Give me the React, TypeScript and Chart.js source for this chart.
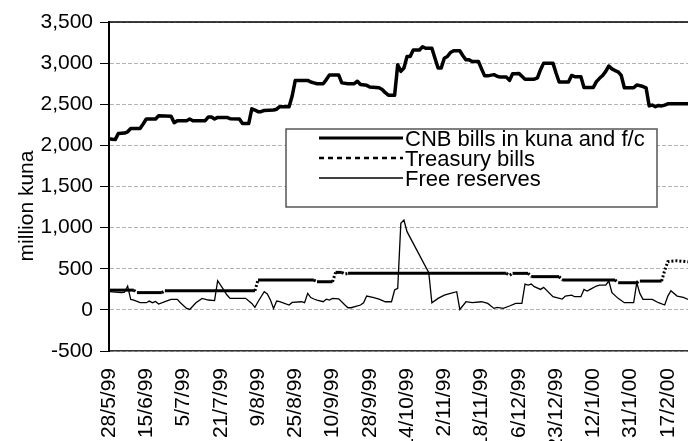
import React, { useEffect, useRef } from 'react';
import { Chart, registerables } from 'chart.js';

Chart.register(...registerables);

const FONT = "'Liberation Sans', Arial, Helvetica, sans-serif";

// x axis: working-day index; labels every 12 working days
const xTickPos = [0, 12, 24, 36, 48, 60, 72, 84, 96, 108, 120, 132, 144, 156, 168, 180];
const xTickLabels = [
  '28/5/99', '15/6/99', '5/7/99', '21/7/99', '9/8/99', '25/8/99', '10/9/99', '28/9/99',
  '14/10/99', '2/11/99', '18/11/99', '6/12/99', '23/12/99', '12/1/00', '31/1/00', '17/2/00',
];

const seriesNames = ['CNB bills in kuna and f/c', 'Treasury bills', 'Free reserves'];

// CNB bills in kuna and f/c (million kuna)
const cnbDay = [0, 1, 2, 3, 5, 6, 7, 10, 11, 12, 15, 16, 20, 21, 22, 25, 26, 27, 31, 32, 33, 34, 35, 38, 39, 42, 43, 45,
  46, 47, 48, 49, 50, 53, 54, 55, 58, 59, 60, 64, 65, 66, 67, 69, 70, 71, 74, 75, 77, 79, 80, 81, 83, 84, 87, 88, 89, 90, 92,
  93, 94, 95, 96, 97, 98, 100, 101, 102, 104, 105, 106, 107, 108, 109, 110, 111, 113, 114, 115, 116, 117, 119, 120, 121, 122,
  124, 125, 126, 128, 129, 130, 131, 132, 133, 134, 137, 138, 139, 140, 143, 144, 145, 148, 149, 150, 152, 153, 156, 157, 158,
  159, 160, 161, 162, 163, 164, 165, 166, 169, 170, 172, 173, 174, 175, 176, 177, 178, 179, 180, 187];
const cnbVal = [2080, 2075, 2070, 2145, 2150, 2165, 2205, 2205, 2260, 2320, 2320, 2360, 2355, 2275, 2300, 2300, 2320, 2300,
  2300, 2345, 2345, 2320, 2340, 2340, 2325, 2320, 2265, 2265,
  2445, 2430, 2410, 2410, 2425, 2430, 2440, 2470, 2470, 2600, 2790, 2790, 2770, 2760, 2750, 2750, 2800, 2855, 2855, 2760,
  2750, 2750, 2780, 2740, 2730, 2710, 2700, 2680, 2640, 2610, 2610,
  2980, 2900, 2940, 3080, 3080, 3160, 3160, 3200, 3180, 3180, 3060, 2940, 2940, 3060, 3080, 3130, 3150, 3150, 3090, 3040,
  3040, 3020, 3020, 2930, 2845, 2845,
  2860, 2840, 2830, 2830, 2790, 2870, 2870, 2875, 2840, 2805, 2805, 2820, 2920, 3000, 3000, 2880, 2770, 2770, 2850, 2835,
  2835, 2705, 2705, 2775, 2815,
  2850, 2900, 2965, 2930, 2910, 2895, 2850, 2700, 2700, 2735, 2715, 2700, 2480, 2490, 2470, 2485, 2480, 2490, 2505, 2505];

// Treasury bills (million kuna)
const tbDay = [0, 8, 9, 17, 18, 47, 48, 66, 67, 72, 73, 75, 76, 77, 128, 129, 130, 135, 136, 145, 146, 163, 164, 170,
  171, 178, 179, 180, 183, 187];
const tbVal = [240, 240, 210, 210, 232, 232, 362, 362, 342, 342, 456, 456, 436, 444, 444, 420, 444, 444, 404, 404, 364,
  364, 330, 330, 350, 350, 480, 586, 598, 582];

// Free reserves (million kuna)
const frDay = [0, 4, 5, 6, 7, 8, 10, 12, 13, 14, 15, 16, 18, 20, 22, 23, 25, 26, 28, 30, 32, 34, 35, 37, 38, 39, 44, 46,
  47, 48, 50, 51, 52, 53, 54, 55, 58, 59, 62, 63, 64, 65, 66, 67, 69, 70, 71, 72, 74, 76, 77, 78, 81, 82, 83, 85, 87, 89,
  91, 92, 93, 94, 95, 96, 103, 104, 106, 108, 110, 112, 113, 115, 117, 120, 122, 124, 125, 127, 129, 131, 133, 134, 135,
  136, 137, 139, 140, 143, 146, 147, 149, 150, 152, 153, 154, 155, 157, 158, 160, 161, 162, 164, 166, 169, 170, 171, 172,
  175, 177, 179, 180, 181, 183, 185, 187];
const frVal = [221, 209, 215, 290, 128, 119, 87, 87, 107, 87, 103, 71, 99, 128, 128, 87, 18, 6, 87, 140, 120, 112, 355,
  241, 180, 140, 140, 79, 30, 99, 221, 193, 120, 18, 107, 99, 59, 91, 99, 87, 201, 150, 132, 120, 99, 130, 120, 140, 135,
  59, 26, 26, 59, 87, 168, 152, 130, 99, 99, 241, 262, 1052, 1092, 951, 452, 87, 140, 180, 201, 221, 6, 99, 87, 99, 79,
  18, 30, 18, 47, 79, 79, 314, 302, 314, 282, 249, 274, 160, 132, 168, 180, 160, 160, 249, 229, 249, 290, 300, 300, 351,
  209, 140, 87, 87, 330, 200, 128, 128, 87, 59, 168, 233, 168, 152, 120];

const pairs = (d: number[], v: number[]) => d.map((x, i) => ({ x, y: v[i] }));

export default function App() {
  const ref = useRef<HTMLCanvasElement | null>(null);

  useEffect(() => {
    document.body.style.margin = '0';
    const canvas = ref.current;
    if (!canvas) return;

    const frameLine = {
      id: 'frameLine',
      beforeDatasetsDraw(chart: any) {
        const { ctx, chartArea: a } = chart;
        ctx.save();
        ctx.strokeStyle = '#000';
        ctx.lineWidth = 1.5;
        ctx.beginPath();
        ctx.moveTo(a.left, a.top);
        ctx.lineTo(a.right, a.top);
        ctx.stroke();
        ctx.restore();
      },
    };

    const legendBox = {
      id: 'legendBox',
      afterDatasetsDraw(chart: any) {
        const { ctx } = chart;
        ctx.save();
        ctx.fillStyle = '#fff';
        ctx.fillRect(286, 129, 371, 78);
        ctx.strokeStyle = '#555';
        ctx.lineWidth = 1.5;
        ctx.strokeRect(286, 129, 371, 78);
        const lineY = [138, 158, 178];
        const textY = [146, 166, 186];
        const widths = [3, 2.3, 1.3];
        const dashes = [[], [5, 4], []];
        chart.data.datasets.forEach((ds: any, i: number) => {
          ctx.strokeStyle = ds.borderColor;
          ctx.lineWidth = widths[i];
          ctx.setLineDash(dashes[i]);
          ctx.beginPath();
          ctx.moveTo(319, lineY[i]);
          ctx.lineTo(403, lineY[i]);
          ctx.stroke();
          ctx.setLineDash([]);
          ctx.fillStyle = '#000';
          ctx.font = `22px ${FONT}`;
          ctx.textAlign = 'left';
          ctx.textBaseline = 'alphabetic';
          ctx.fillText(ds.label, 405, textY[i]);
        });
        ctx.restore();
      },
    };

    const yTitle = {
      id: 'yTitle',
      afterDraw(chart: any) {
        const { ctx } = chart;
        ctx.save();
        ctx.translate(33, 206);
        ctx.rotate(-Math.PI / 2);
        ctx.fillStyle = '#000';
        ctx.font = `21px ${FONT}`;
        ctx.textAlign = 'center';
        ctx.textBaseline = 'alphabetic';
        ctx.fillText('million kuna', 0, 0);
        ctx.restore();
      },
    };

    const chart = new Chart(canvas, {
      type: 'line',
      data: {
        datasets: [
          {
            label: seriesNames[0],
            data: pairs(cnbDay, cnbVal),
            borderColor: '#000',
            borderWidth: 3.5,
            pointRadius: 0,
            tension: 0,
            borderJoinStyle: 'round',
          },
          {
            label: seriesNames[1],
            data: pairs(tbDay, tbVal),
            borderColor: '#000',
            borderWidth: 3,
            pointRadius: 0,
            tension: 0,
            segment: {
              borderDash: (c: any) => (c.p0.parsed.y === c.p1.parsed.y ? [] : [2, 2]),
            },
          },
          {
            label: seriesNames[2],
            data: pairs(frDay, frVal),
            borderColor: '#000',
            borderWidth: 1.3,
            pointRadius: 0,
            tension: 0,
          },
        ],
      },
      options: {
        responsive: false,
        maintainAspectRatio: false,
        devicePixelRatio: 1,
        animation: false,
        events: [],
        layout: { padding: { top: 22, left: 0, right: 0, bottom: 0 } },
        plugins: { legend: { display: false }, tooltip: { enabled: false } },
        scales: {
          x: {
            type: 'linear',
            min: 0,
            max: 186.5,
            afterBuildTicks: (axis: any) => {
              axis.ticks = xTickPos.map((v) => ({ value: v }));
            },
            afterFit: (scale: any) => {
              scale.height = 90;
              scale.paddingLeft = 0;
              scale.paddingRight = 0;
            },
            ticks: {
              autoSkip: false,
              minRotation: 90,
              maxRotation: 90,
              padding: 17,
              color: '#000',
              font: { family: FONT, size: 21 },
              callback: (v: any) => {
                const i = xTickPos.indexOf(Number(v));
                return i >= 0 ? xTickLabels[i] : '';
              },
            },
            grid: { display: false, drawTicks: false },
            border: { display: true, color: '#333', width: 1.5 },
          },
          y: {
            min: -500,
            max: 3500,
            afterFit: (scale: any) => {
              scale.width = 109;
            },
            ticks: {
              stepSize: 500,
              padding: 7,
              color: '#000',
              font: { family: FONT, size: 21 },
              callback: (v: any) => Number(v).toLocaleString('en-US'),
            },
            grid: {
              color: '#b4b4b4',
              lineWidth: 1,
              drawTicks: true,
              tickLength: 9,
              tickColor: '#000',
              tickWidth: 1,
              tickBorderDash: [],
            },
            border: { display: true, color: '#000', width: 2, dash: [4, 2] },
          },
        },
      } as any,
      plugins: [frameLine, legendBox, yTitle],
    });

    return () => chart.destroy();
  }, []);

  return (
    <div style={{ position: 'fixed', left: 0, top: 0, width: 688, height: 441, overflow: 'hidden', background: '#fff' }}>
      <canvas ref={ref} width={688} height={441} style={{ display: 'block', width: 688, height: 441 }} />
    </div>
  );
}
